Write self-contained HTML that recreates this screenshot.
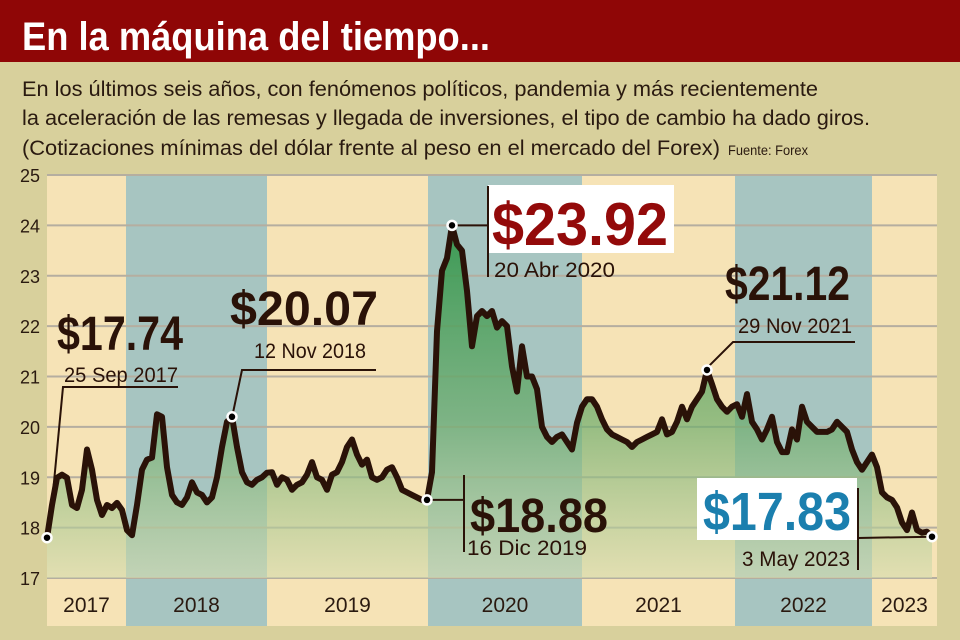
<!DOCTYPE html>
<html><head><meta charset="utf-8">
<style>
html,body{margin:0;padding:0;background:#d8d09c;}
svg{display:block;font-family:"Liberation Sans",sans-serif;}
</style></head>
<body>
<svg id="chart" width="960" height="640" viewBox="0 0 960 640">
  <defs>
    <linearGradient id="fillGrad" gradientUnits="userSpaceOnUse" x1="0" y1="226" x2="0" y2="578">
      <stop offset="0" stop-color="#2f9448" stop-opacity="0.9"/>
      <stop offset="0.55" stop-color="#6aab6a" stop-opacity="0.7"/>
      <stop offset="1" stop-color="#d4dcae" stop-opacity="0.6"/>
    </linearGradient>
  </defs>
  <rect x="0" y="0" width="960" height="640" fill="#d8d09c"/>
  <rect x="0" y="0" width="960" height="62" fill="#8f0606"/>
  <text x="22" y="50" fill="#fff" font-weight="bold" font-size="40" textLength="468" lengthAdjust="spacingAndGlyphs">En la máquina del tiempo...</text>
  <g fill="#2a1a10" font-size="21">
    <text x="22" y="96" textLength="796" lengthAdjust="spacingAndGlyphs">En los últimos seis años, con fenómenos políticos, pandemia y más recientemente</text>
    <text x="22" y="125" textLength="848" lengthAdjust="spacingAndGlyphs">la aceleración de las remesas y llegada de inversiones, el tipo de cambio ha dado giros.</text>
    <text x="22" y="155" textLength="698" lengthAdjust="spacingAndGlyphs">(Cotizaciones mínimas del dólar frente al peso en el mercado del Forex)</text>
    <text x="728" y="155" font-size="14" textLength="80" lengthAdjust="spacingAndGlyphs">Fuente: Forex</text>
  </g>
  <g id="bands"></g>
  <g id="grid"></g>
  <g id="yticks"></g>
  <path id="area" fill="url(#fillGrad)"/>
  <path id="line" fill="none" stroke="#2a1208" stroke-width="6" stroke-linejoin="round" stroke-linecap="round"/>
  <g id="years"></g>
  <g id="annotations" fill="#2a1208"></g>
  <g id="dots"></g>
</svg>
<script>
const yTicks = [17,18,19,20,21,22,23,24,25];
const years = ["2017","2018","2019","2020","2021","2022","2023"];
const values = [17.8,18.45,18.99,19.05,18.99,18.45,18.39,18.75,19.55,19.15,18.55,18.25,18.45,18.39,18.49,18.35,17.95,17.85,18.45,19.15,19.35,19.39,20.25,20.2,19.2,18.65,18.5,18.45,18.6,18.9,18.7,18.65,18.5,18.6,19.0,19.6,20.1,20.2,19.6,19.1,18.9,18.85,18.95,19.0,19.09,19.1,18.85,19.0,18.95,18.75,18.85,18.9,19.05,19.3,19.0,18.95,18.75,19.05,19.1,19.3,19.6,19.75,19.45,19.25,19.35,19.0,18.95,19.0,19.15,19.2,19.0,18.75,18.7,18.65,18.6,18.55,
18.55,19.1,21.9,23.1,23.35,24.0,23.62,23.5,22.7,21.6,
22.2,22.3,22.2,22.3,21.97,22.1,22.0,21.2,20.7,21.6,
21.0,21.0,20.75,20.0,19.8,19.7,19.8,19.85,19.7,19.55,
20.08,20.4,20.55,20.55,20.4,20.15,19.95,19.85,19.8,19.75,
19.7,19.6,19.7,19.75,19.8,19.85,19.9,20.15,19.85,19.9,
20.1,20.4,20.15,20.4,20.55,20.7,21.13,20.85,20.55,20.4,
20.3,20.4,20.45,20.2,20.65,20.1,19.95,19.75,19.95,20.2,
19.7,19.5,19.5,19.95,19.75,20.4,20.1,20.0,19.9,19.9,
19.9,19.95,20.1,20.0,19.9,19.55,19.3,19.15,19.3,19.45,
19.2,18.7,18.6,18.55,18.4,18.1,17.95,18.3,17.95,17.9,
17.92,17.82];
const highlightIdx = [0,37,76,81,132,177];

const svg = document.getElementById('chart');
const NS = 'http://www.w3.org/2000/svg';
const X0 = 47, X1 = 932, PL = 47, PR = 937, PT = 175, PB = 578, BOT = 626;
const yScale = v => PB - (v - 17) / (25 - 17) * (PB - PT);
const xScale = i => X0 + i / (values.length - 1) * (X1 - X0);
function mk(tag, attrs, parent){const e=document.createElementNS(NS,tag);for(const k in attrs)e.setAttribute(k,attrs[k]);parent.appendChild(e);return e;}

const bandEdges = [47,126,267,428,582,735,872,937];
const bandG = document.getElementById('bands');
years.forEach((y,i)=>{
  const r = mk('rect',{x:bandEdges[i],y:PT,width:bandEdges[i+1]-bandEdges[i],height:BOT-PT,fill:i%2? '#a7c5c1':'#f6e3b6'},bandG);
  
  
  const t = mk('text',{x:(bandEdges[i]+bandEdges[i+1])/2,y:612,'text-anchor':'middle','font-size':'21',fill:'#2a1a10'},document.getElementById('years'));
  t.textContent = y;
  
  
});

const gridG = document.getElementById('grid'), ytG = document.getElementById('yticks');
yTicks.forEach(v=>{
  const l = mk('line',{x1:PL,x2:PR,y1:yScale(v),y2:yScale(v),stroke:'#b5aea0','stroke-width':'2'},gridG);
  
  
  const t = mk('text',{x:30,y:yScale(v)+7,'text-anchor':'middle','font-size':'18',fill:'#2a1a10'},ytG);
  t.textContent = v;
  
  
});

let d = '';
values.forEach((v,i)=>{ d += (i?'L':'M') + xScale(i).toFixed(1) + ',' + yScale(v).toFixed(1); });
document.getElementById('line').setAttribute('d', d);
document.getElementById('area').setAttribute('d', d + 'L' + xScale(values.length-1) + ',' + PB + 'L' + xScale(0) + ',' + PB + 'Z');

const aG = document.getElementById('annotations');
function txt(s,x,y,size,attrs,name){const t=mk('text',Object.assign({x:x,y:y,'font-size':size},attrs||{}),aG);t.textContent=s;return t;}
function pl(pts,name){const p=mk('polyline',{points:pts,fill:'none',stroke:'#2a1208','stroke-width':'2'},aG);}
const P = highlightIdx.map(i=>[xScale(i),yScale(values[i])]);

txt('$17.74',57,350,48,{'font-weight':'bold',textLength:126,lengthAdjust:'spacingAndGlyphs'},'value-17-74');
txt('25 Sep 2017',64,382,21,{textLength:114,lengthAdjust:'spacingAndGlyphs'},'date-sep-2017');
pl(`178,387 63,387 ${P[0][0]+2},${P[0][1]-3}`,'leader-17-74');
txt('$20.07',230,325,48,{'font-weight':'bold',textLength:148,lengthAdjust:'spacingAndGlyphs'},'value-20-07');
txt('12 Nov 2018',254,358,21,{textLength:112,lengthAdjust:'spacingAndGlyphs'},'date-nov-2018');
pl(`376,370 242,370 ${P[1][0]+1},${P[1][1]-4}`,'leader-20-07');
txt('$18.88',470,532,48,{'font-weight':'bold',textLength:138,lengthAdjust:'spacingAndGlyphs'},'value-18-88');
txt('16 Dic 2019',467,555,21,{textLength:120,lengthAdjust:'spacingAndGlyphs'},'date-dic-2019');
pl(`${P[2][0]},${P[2][1]} 464,${P[2][1]}`,'leader-18-88-h');
pl(`464,475 464,552`,'leader-18-88-v');
const b1 = mk('rect',{x:488,y:185,width:186,height:68,fill:'#fff'},aG);


txt('$23.92',492,245,60,{'font-weight':'bold',fill:'#930a0a',textLength:176,lengthAdjust:'spacingAndGlyphs'},'value-23-92');
txt('20 Abr 2020',494,277,21,{textLength:121,lengthAdjust:'spacingAndGlyphs'},'date-abr-2020');
pl(`${P[3][0]},${P[3][1]} 488,${P[3][1]}`,'leader-23-92-h');
pl(`488,186 488,277`,'leader-23-92-v');
txt('$21.12',725,300,48,{'font-weight':'bold',textLength:125,lengthAdjust:'spacingAndGlyphs'},'value-21-12');
txt('29 Nov 2021',738,333,21,{textLength:114,lengthAdjust:'spacingAndGlyphs'},'date-nov-2021');
pl(`855,342 733,342 ${P[4][0]+1},${P[4][1]-3}`,'leader-21-12');
const b2 = mk('rect',{x:697,y:478,width:160,height:62,fill:'#fff'},aG);


txt('$17.83',703,530,54,{'font-weight':'bold',fill:'#1b7fae',textLength:148,lengthAdjust:'spacingAndGlyphs'},'value-17-83');
txt('3 May 2023',742,566,21,{textLength:108,lengthAdjust:'spacingAndGlyphs'},'date-may-2023');
pl(`858,488 858,570`,'leader-17-83-v');
pl(`858,538 ${P[5][0]},${P[5][1]}`,'leader-17-83-h');

const dG = document.getElementById('dots');
P.forEach((p,k)=>{
  const c = mk('circle',{cx:p[0],cy:p[1],r:4.5,fill:'#000',stroke:'#fff','stroke-width':'2.5'},dG);
  
  
});
</script>
</body></html>
